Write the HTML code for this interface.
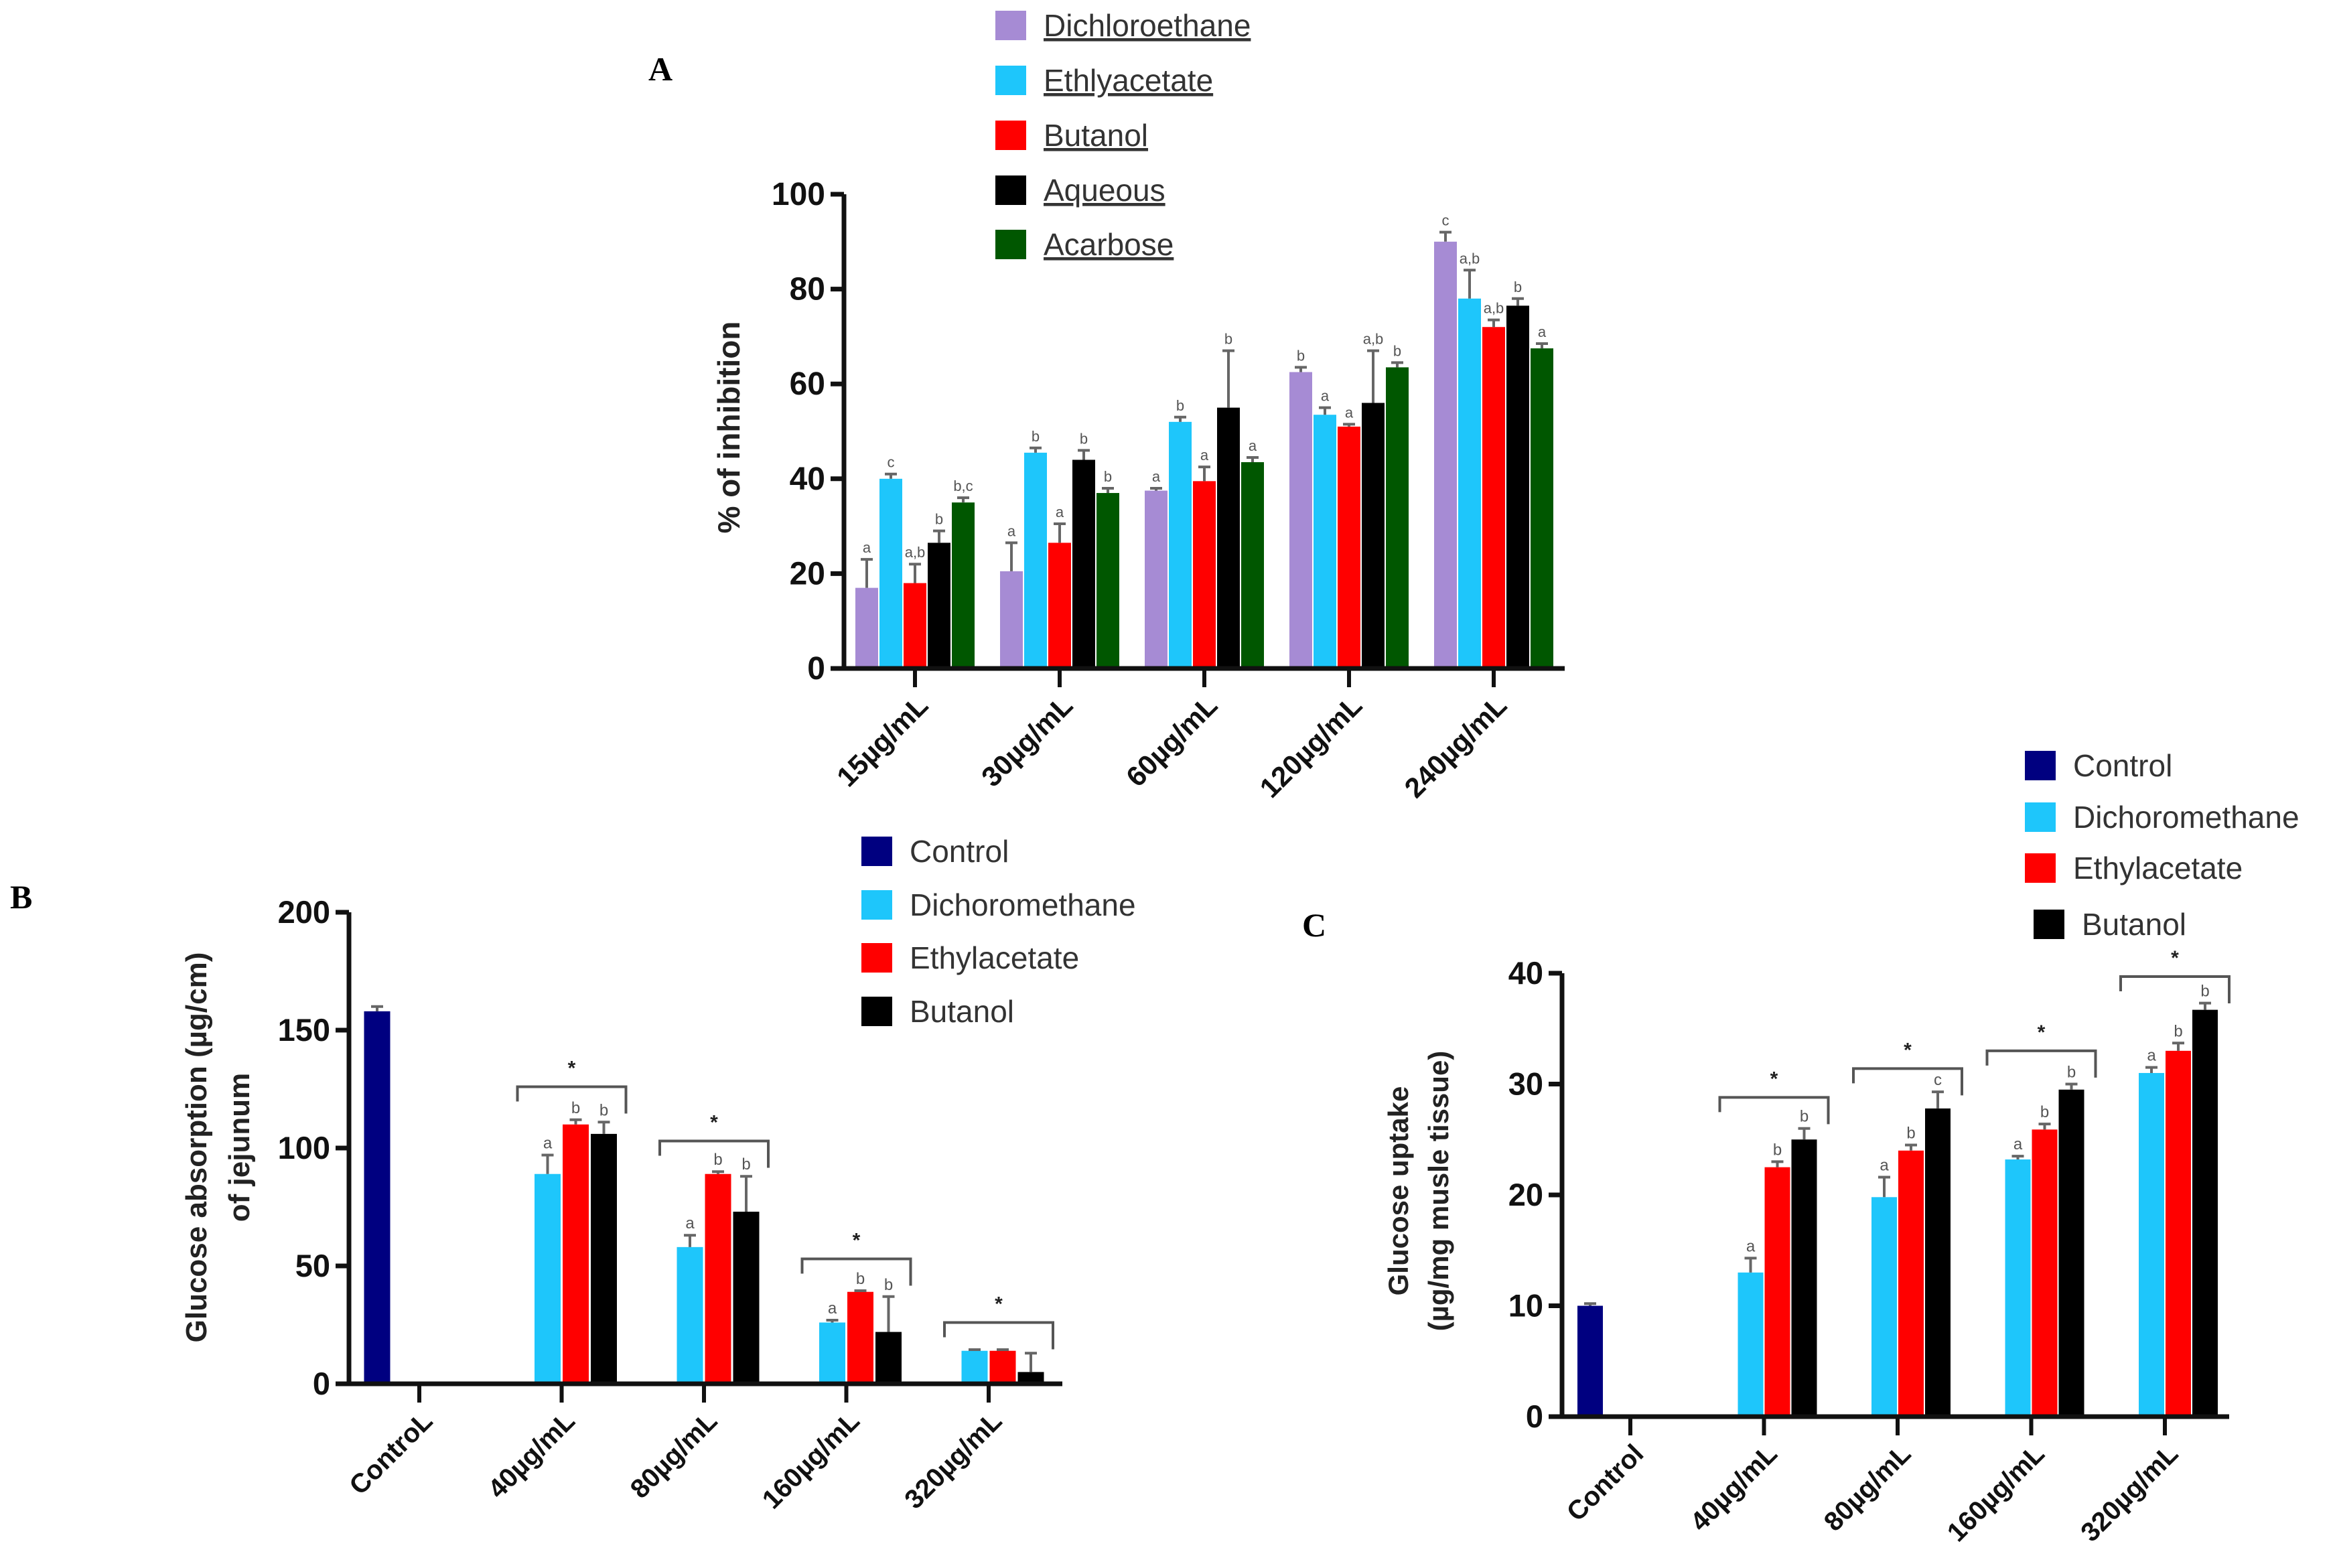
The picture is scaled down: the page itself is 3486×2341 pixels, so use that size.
<!DOCTYPE html>
<html><head><meta charset="utf-8"><title>Glucose charts</title>
<style>
html,body{margin:0;padding:0;background:#fff;}
svg{display:block;font-family:"Liberation Sans",Arial,sans-serif;}
</style></head>
<body>
<svg id="fig" width="3486" height="2341" viewBox="0 0 3486 2341" xmlns="http://www.w3.org/2000/svg">
<text x="968" y="120" font-family="Liberation Serif,serif" font-weight="bold" font-size="50">A</text>
<text x="15" y="1356" font-family="Liberation Serif,serif" font-weight="bold" font-size="50">B</text>
<text x="1944" y="1398" font-family="Liberation Serif,serif" font-weight="bold" font-size="50">C</text>
<g id="A"></g>
<g id="B"></g>
<g id="C"></g>
</svg>
<script>
// ---- Panel A data ----
const catsA = ["15µg/mL","30µg/mL","60µg/mL","120µg/mL","240µg/mL"];
const seriesA = ["Dichloroethane","Ethlyacetate","Butanol","Aqueous","Acarbose"];
const colorsA = ["#a68bd4","#1ec6fb","#ff0000","#000000","#005700"];
const dceA = [17,20.5,37.5,62.5,90];
const eaA = [40,45.5,52,53.5,78];
const buA = [18,26.5,39.5,51,72];
const aqA = [26.5,44,55,56,76.5];
const acA = [35,37,43.5,63.5,67.5];
const errDceA = [6,6,0.5,1,2];
const errEaA = [1,1,1,1.5,6];
const errBuA = [4,4,3,0.5,1.5];
const errAqA = [2.5,2,12,11,1.5];
const errAcA = [1,1,1,1,1];
const lettersA = [["a","c","a,b","b","b,c"],["a","b","a","b","b"],["a","b","a","b","a"],["b","a","a","a,b","b"],["c","a,b","a,b","b","a"]];
const ticksA = [0,20,40,60,80,100];
// ---- Panel B data ----
const catsB = ["ControL","40µg/mL","80µg/mL","160µg/mL","320µg/mL"];
const seriesB = ["Control","Dichoromethane","Ethylacetate","Butanol"];
const colorsBC = ["#000080","#1ec6fb","#ff0000","#000000"];
const controlB = [158,null,null,null,null];
const dcmB = [null,89,58,26,14];
const eaB = [null,110,89,39,14];
const buB = [null,106,73,22,5];
const errControlB = [2,0,0,0,0];
const errDcmB = [0,8,5,1,0.5];
const errEaB = [0,2,1,0.5,0.5];
const errBuB = [0,5,15,15,8];
const lettersB = [[],["","a","b","b"],["","a","b","b"],["","a","b","b"],[]];
const bracketB = [null,126,103,53,26];
const ticksB = [0,50,100,150,200];
// ---- Panel C data ----
const catsC = ["Control","40µg/mL","80µg/mL","160µg/mL","320µg/mL"];
const controlC = [10,null,null,null,null];
const dcmC = [null,13,19.8,23.2,31];
const eaC = [null,22.5,24,25.9,33];
const buC = [null,25,27.8,29.5,36.7];
const errControlC = [0.2,0,0,0,0];
const errDcmC = [0,1.3,1.8,0.3,0.5];
const errEaC = [0,0.5,0.5,0.5,0.7];
const errBuC = [0,1,1.5,0.5,0.6];
const lettersC = [[],["","a","b","b"],["","a","b","c"],["","a","b","b"],["","a","b","b"]];
const bracketC = [null,28.8,31.4,33,39.7];
const ticksC = [0,10,20,30,40];

const NS="http://www.w3.org/2000/svg";
function mk(parent,tag,attrs,txt){const e=document.createElementNS(NS,tag);for(const k in attrs)e.setAttribute(k,attrs[k]);if(txt!==undefined)e.textContent=txt;parent.appendChild(e);return e;}

function drawPanel(g,cfg){
  const yS=v=>cfg.y0-(v-cfg.ymin)/(cfg.ymax-cfg.ymin)*(cfg.y0-cfg.yTop);
  const xS=i=>cfg.tick0+i*cfg.tickStep;
  const nS=cfg.series.length;
  cfg.series.forEach((vals,s)=>{
    vals.forEach((v,i)=>{
      if(v===null||v===undefined)return;
      const left=xS(i)-nS*cfg.slot/2+s*cfg.slot+(cfg.slot-cfg.bw)/2;
      const top=yS(v);
      const r=mk(g,'rect',{x:left,y:top,width:cfg.bw,height:cfg.y0-top,fill:cfg.colors[s]});
      
      
      const e=cfg.errs[s][i];
      const cx=left+cfg.bw/2;
      if(e>0){
        const ty=yS(v+e);
        const l=mk(g,'path',{d:`M${cx},${top} V${ty} M${cx-9},${ty} H${cx+9}`,stroke:'#666',"stroke-width":4,fill:'none'});
        
        
      }
      const lt=(cfg.letters[i]||[])[s];
      if(lt){
        const t=mk(g,'text',{x:cx,y:yS(v+e)-10,"text-anchor":"middle","font-size":cfg.letterSize,fill:'#555'},lt);
        
        
      }
    });
  });
  if(cfg.brackets){
    cfg.brackets.forEach((b,i)=>{
      if(b===null)return;
      const x1=xS(i)-66,x2=xS(i)+96,y=yS(b);
      const p=mk(g,'path',{d:`M${x1},${y+22} V${y} H${x2} V${y+40}`,stroke:'#555',"stroke-width":4,fill:'none'});
      
      
      const st=mk(g,'text',{x:(x1+x2)/2,y:y-18,"text-anchor":"middle","font-size":30,"font-weight":"bold",fill:'#222'},'*');
      
      
    });
  }
  const ax=mk(g,'path',{d:`M${cfg.ax},${cfg.yTop} V${cfg.y0} M${cfg.ax-18},${cfg.y0} H${cfg.axEnd}`,stroke:'#111',"stroke-width":7,fill:'none'});
  
  
  cfg.ticks.forEach(v=>{
    const y=yS(v);
    mk(g,'line',{x1:cfg.ax-20,x2:cfg.ax,y1:y,y2:y,stroke:'#111',"stroke-width":7});
    const t=mk(g,'text',{x:cfg.ax-28,y:y+16,"text-anchor":"end","font-size":cfg.tickSize,"font-weight":"bold",fill:'#111'},String(v));
    
    
  });
  cfg.cats.forEach((c,i)=>{
    const x=xS(i);
    mk(g,'line',{x1:x,x2:x,y1:cfg.y0,y2:cfg.y0+28,stroke:'#111',"stroke-width":6});
    const tx=x+22,ty=cfg.y0+58;
    const t=mk(g,'text',{x:tx,y:ty,"text-anchor":"end","font-size":cfg.catSize,"font-weight":"bold",fill:'#111',transform:`rotate(-45 ${tx} ${ty})`},c);
    
    
  });
  cfg.ytitle.forEach((line,k)=>{
    const x=cfg.ytx[k],y=cfg.yty;
    const t=mk(g,'text',{x:x,y:y,"text-anchor":"middle","font-size":cfg.ytSize,"font-weight":"bold",fill:'#222',transform:`rotate(-90 ${x} ${y})`},line);
    
    
  });
  cfg.legendNames.forEach((n,k)=>{
    const lx=cfg.leg.x+(cfg.leg.dx?cfg.leg.dx[k]:0), ly=cfg.leg.ys[k];
    const sq=mk(g,'rect',{x:lx,y:ly-22,width:cfg.leg.sq,height:44,fill:cfg.legendColors[k]});
    
    
    const t=mk(g,'text',{x:lx+cfg.leg.sq+26,y:ly+16,"font-size":cfg.leg.fs,fill:'#333',"text-decoration":cfg.leg.ul?'underline':'none'},n);
    
    
  });
}

drawPanel(document.getElementById('A'),{key:'a',
  series:[dceA,eaA,buA,aqA,acA],errs:[errDceA,errEaA,errBuA,errAqA,errAcA],colors:colorsA,letters:lettersA,
  cats:catsA,ticks:ticksA,ymin:0,ymax:100,y0:998,yTop:290,ax:1260,axEnd:2336,tick0:1366,tickStep:216,slot:36,bw:34,
  tickSize:48,catSize:42,letterSize:22,ytitle:["% of inhibition"],ytx:[1104],yty:638,ytSize:46,
  legendNames:seriesA,legendColors:colorsA,leg:{x:1486,ys:[38,120,202,284,365],sq:46,fs:46,ul:true}});

drawPanel(document.getElementById('B'),{key:'b',
  series:[controlB,dcmB,eaB,buB],errs:[errControlB,errDcmB,errEaB,errBuB],colors:colorsBC,letters:lettersB,brackets:bracketB,
  cats:catsB,ticks:ticksB,ymin:0,ymax:200,y0:2066,yTop:1362,ax:521,axEnd:1586,tick0:626,tickStep:212.5,slot:42,bw:39,
  tickSize:47,catSize:40,letterSize:24,ytitle:["Glucose absorption (µg/cm)","of jejunum"],ytx:[308,372],yty:1713,ytSize:44,
  legendNames:seriesB,legendColors:colorsBC,leg:{x:1286,ys:[1271,1351,1430,1510],sq:46,fs:46,ul:false}});

drawPanel(document.getElementById('C'),{key:'c',
  series:[controlC,dcmC,eaC,buC],errs:[errControlC,errDcmC,errEaC,errBuC],colors:colorsBC,letters:lettersC,brackets:bracketC,
  cats:catsC,ticks:ticksC,ymin:0,ymax:40,y0:2115,yTop:1453,ax:2332,axEnd:3328,tick0:2434,tickStep:199.5,slot:40,bw:38,
  tickSize:47,catSize:40,letterSize:24,ytitle:["Glucose uptake","(µg/mg musle tissue)"],ytx:[2102,2162],yty:1778,ytSize:42,
  legendNames:seriesB,legendColors:colorsBC,leg:{x:3023,dx:[0,0,0,13],ys:[1143,1220,1296,1380],sq:46,fs:46,ul:false}});
</script>
</body></html>
